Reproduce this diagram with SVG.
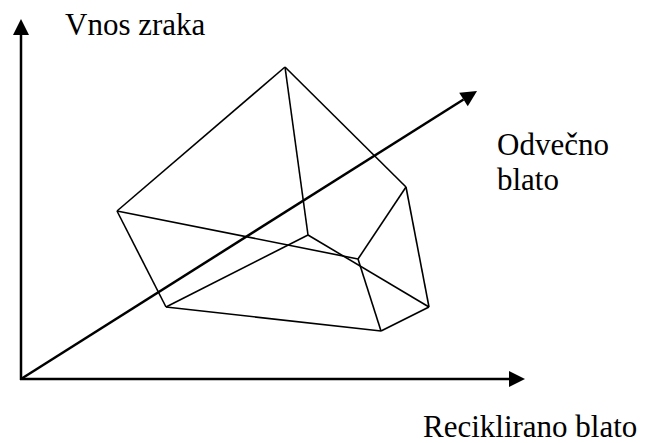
<svg xmlns="http://www.w3.org/2000/svg" width="647" height="443" viewBox="0 0 647 443">
<style>
.axis{stroke:#000;stroke-width:2.5;fill:none}
.edge{stroke:#000;stroke-width:1.6;fill:none;stroke-linejoin:round}
text{font-family:'Liberation Serif','DejaVu Serif',serif;font-size:31px;fill:#000}
</style>
<defs>
<marker id="arr" markerUnits="userSpaceOnUse" markerWidth="16" markerHeight="16" refX="0" refY="8" orient="auto" overflow="visible">
<path d="M0,0 L16,8 L0,16 Z" fill="#000"/>
</marker>
</defs>
<rect width="647" height="443" fill="#fff"/>
<g id="connectors">
<line class="axis" x1="21" y1="380" x2="21" y2="35" marker-end="url(#arr)"/>
<line class="axis" x1="20" y1="379" x2="509" y2="379" marker-end="url(#arr)"/>
<line class="axis" x1="21" y1="379" x2="463.5" y2="99.5" marker-end="url(#arr)"/>
</g>
<g id="polyhedron">
<line class="edge" x1="285" y1="67" x2="117" y2="211"/>
<line class="edge" x1="285" y1="67" x2="406" y2="187"/>
<line class="edge" x1="285" y1="67" x2="308" y2="235"/>
<line class="edge" x1="117" y1="211" x2="358" y2="259"/>
<line class="edge" x1="117" y1="211" x2="166" y2="307"/>
<line class="edge" x1="166" y1="307" x2="308" y2="235"/>
<line class="edge" x1="166" y1="307" x2="381" y2="331"/>
<line class="edge" x1="381" y1="331" x2="429" y2="307"/>
<line class="edge" x1="406" y1="187" x2="429" y2="307"/>
<line class="edge" x1="406" y1="187" x2="358" y2="259"/>
<line class="edge" x1="358" y1="259" x2="381" y2="331"/>
<line class="edge" x1="308" y1="235" x2="429" y2="307"/>
</g>
<g id="labels">
<text x="65" y="35" font-family="Liberation Serif, serif">Vnos zraka</text>
<text x="497" y="155" font-family="Liberation Serif, serif">Odvečno</text>
<text x="497" y="190" font-family="Liberation Serif, serif">blato</text>
<text x="423" y="437" font-family="Liberation Serif, serif">Reciklirano blato</text>
</g>
</svg>
